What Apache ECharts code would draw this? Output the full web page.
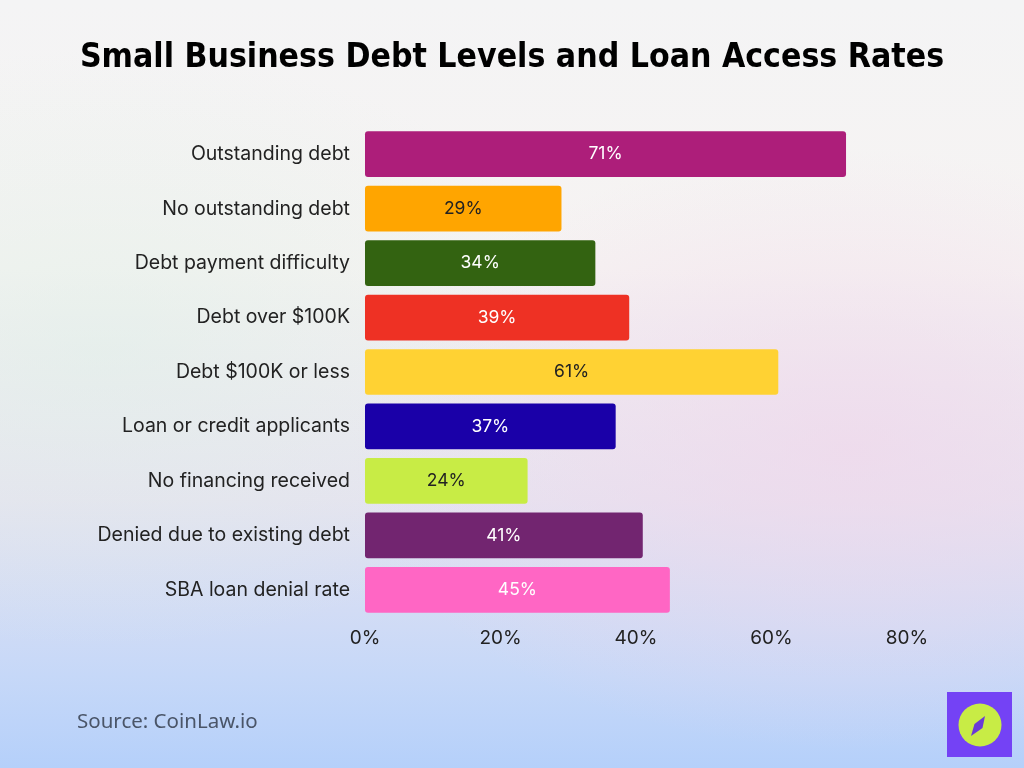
<!DOCTYPE html>
<html><head><meta charset="utf-8">
<script src="https://cdn.jsdelivr.net/npm/echarts@6/dist/echarts.min.js"></script>
<style>
html,body{margin:0;padding:0;width:1024px;height:768px;overflow:hidden;}
body{background:
 radial-gradient(ellipse 500px 300px at 850px 450px, rgba(240,215,235,0.7), rgba(240,215,235,0) 100%),
 radial-gradient(ellipse 500px 300px at 100px 350px, rgba(220,240,230,0.5), rgba(220,240,230,0) 100%),
 linear-gradient(180deg,#f4f4f5 0%,#f6f3f2 35%,#e6e3f0 65%,#c6d8f8 88%,#b5d0fa 100%);}
#c{width:1024px;height:768px;}
</style></head>
<body><div id="c"></div>
<script>
var categories = ["Outstanding debt","No outstanding debt","Debt payment difficulty","Debt over $100K","Debt $100K or less","Loan or credit applicants","No financing received","Denied due to existing debt","SBA loan denial rate"];
var values = [71,29,34,39,61,37,24,41,45];
var barColors = ["#AD1E7A","#FFA500","#336311","#EE3124","#FFD233","#1A00A8","#C8EC45","#722570","#FF66C4"];
var labelColors = ["#ffffff","#222222","#ffffff","#ffffff","#222222","#ffffff","#222222","#ffffff","#ffffff"];
var tickValues = [0,20,40,60,80];

var chart = echarts.init(document.getElementById('c'));
chart.setOption({
  backgroundColor: 'transparent',
  animation: false,
  title: {
    text: 'Small Business Debt Levels and Loan Access Rates',
    left: 'center', top: 36,
    textStyle: {fontFamily: 'DejaVu Sans Condensed', fontWeight: 'bold', fontSize: 33.5, color: '#000'}
  },
  grid: {left: 365, right: 117, top: 127, bottom: 151},
  xAxis: {
    type: 'value', min: tickValues[0], max: tickValues[tickValues.length-1], interval: 20,
    axisLine: {show: false}, axisTick: {show: false}, splitLine: {show: false},
    axisLabel: {formatter: '{value}%', fontSize: 19, color: '#222', fontFamily: 'Inter', margin: 12}
  },
  yAxis: {
    type: 'category', data: categories, inverse: true,
    axisLine: {show: false}, axisTick: {show: false},
    axisLabel: {fontSize: 19.5, color: '#222', fontFamily: 'Inter', margin: 15}
  },
  series: [{
    type: 'bar',
    barCategoryGap: '16%',
    data: values.map(function(v,i){
      return {value: v, itemStyle: {color: barColors[i], borderRadius: 3},
        label: {color: labelColors[i]}};
    }),
    label: {show: true, position: 'inside', formatter: '{c}%', fontSize: 17.5, fontFamily: 'Inter'}
  }],
  graphic: [
    {type: 'text', left: 77, top: 712, style: {text: 'Source: CoinLaw.io', fontSize: 20.5, fill: '#4a5568', fontFamily: 'Noto Sans'}},
    {type: 'rect', shape: {x: 947, y: 692, width: 65, height: 65}, style: {fill: '#7442F5'}},
    {type: 'circle', shape: {cx: 980, cy: 725, r: 21.5}, style: {fill: '#C8EC45'}},
    {type: 'polygon', shape: {points: [[985,716],[982.5,728],[971,736],[974.5,724]]}, style: {fill: '#6A3AD8'}}
  ]
});
</script></body></html>
